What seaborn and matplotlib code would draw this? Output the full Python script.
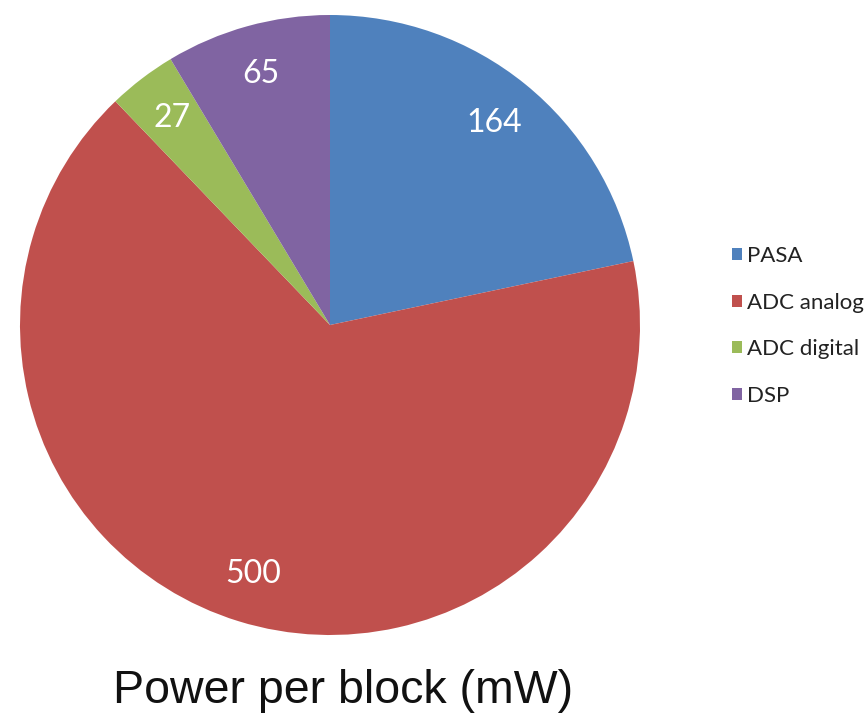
import matplotlib
matplotlib.use("Agg")
import matplotlib.pyplot as plt
import seaborn as sns

# Power consumption per block, in mW
blocks = ["PASA", "ADC analog", "ADC digital", "DSP"]
power_mw = [164, 500, 27, 65]
colors = ["#4F81BD", "#C0504D", "#9BBB59", "#8064A2"]

sns.set_theme(style="white")
plt.rcParams["font.family"] = ["Lato", "DejaVu Sans"]

fig = plt.figure(figsize=(8.66, 7.14), dpi=100)
ax = fig.add_axes([20 / 866, 79 / 714, 620 / 866, 620 / 714])

wedges, texts = ax.pie(
    power_mw,
    colors=colors,
    startangle=90,
    counterclock=False,
    labels=[str(v) for v in power_mw],
    labeldistance=0.84,
    wedgeprops=dict(linewidth=0),
    textprops=dict(color="white", fontsize=23, ha="center", va="center"),
)
ax.set_xlim(-1, 1)
ax.set_ylim(-1, 1)
ax.set_aspect("equal")

fig.legend(
    wedges, blocks,
    loc="center left",
    bbox_to_anchor=(721 / 866, (714 - 326) / 714),
    frameon=False,
    fontsize=16,
    handlelength=0.45, handleheight=0.45,
    handletextpad=0.2,
    labelspacing=1.2,
    borderpad=0,
    labelcolor="#222222",
)

fig.text(343 / 866, (714 - 691) / 714, "Power per block (mW)",
         ha="center", va="center", fontsize=33.5,
         family=["Liberation Sans", "DejaVu Sans"], color="#111111")

fig.savefig("out.png", dpi=100)
